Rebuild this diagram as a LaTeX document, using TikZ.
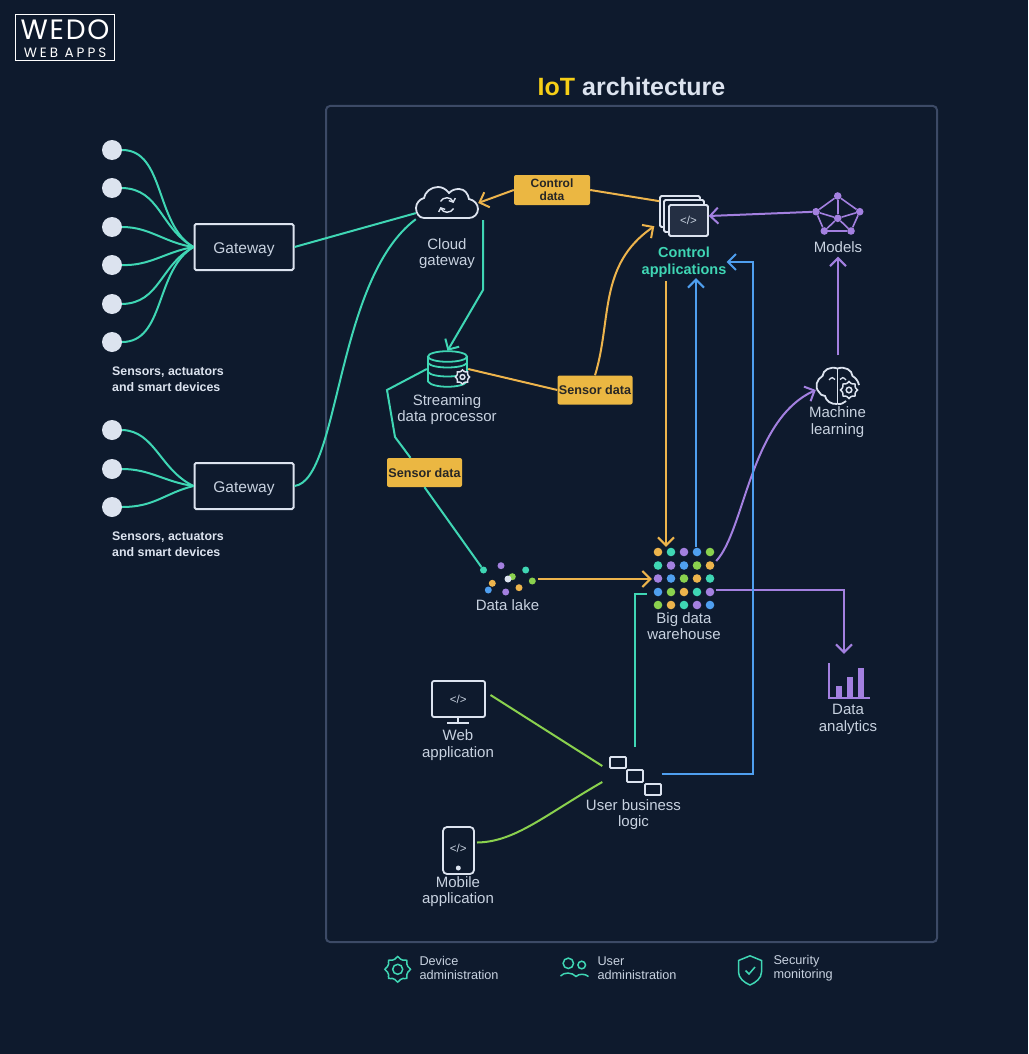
\documentclass[tikz,border=0pt]{standalone}
\usepackage{fontspec}
\setmainfont{Liberation Sans}
\newfontfamily\logofont[LetterSpace=6]{Poppins}
\newfontfamily\logowide[LetterSpace=22]{Poppins}
\usetikzlibrary{arrows.meta}
\definecolor{bgc}{HTML}{0E1A2D}
\definecolor{framec}{HTML}{3C4A66}
\definecolor{linec}{HTML}{DCE3EF}
\definecolor{textc}{HTML}{C8D2E0}
\definecolor{tealc}{HTML}{3FD6B4}
\definecolor{orangec}{HTML}{EDB44C}
\definecolor{boxc}{HTML}{EBB742}
\definecolor{purplec}{HTML}{A380E0}
\definecolor{bluec}{HTML}{4F9FEF}
\definecolor{greenc}{HTML}{8AD14E}
\definecolor{yellowc}{HTML}{F6CF17}
\newcommand{\gearplot}[5]{\draw[#4, line width=1.5pt, fill=bgc] plot[smooth cycle, domain=0:345, samples=24] ({#1+#3*(1+0.13*cos(8*\x))*cos(\x)},{#2+#3*(1+0.13*cos(8*\x))*sin(\x)});
\draw[#4, line width=1.5pt] (#1,#2) circle (#5);}
\tikzset{
sensor/.style={circle, fill=linec, inner sep=0pt, minimum size=20pt},
gatebox/.style={draw=linec, line width=2pt, rounded corners=1.5pt, inner sep=0pt, minimum width=99pt, minimum height=46pt, text=textc, font=\fontsize{15.5}{17}\selectfont},
tag/.style={fill=boxc, rounded corners=2pt, inner sep=0pt, align=center, text=black!85, font=\fontsize{12}{13.2}\selectfont\bfseries},
lbl/.style={inner sep=0pt, align=center, text=textc, font=\fontsize{15}{16.6}\selectfont},
sidelbl/.style={inner sep=0pt, align=left, anchor=west, text=linec, font=\fontsize{12.4}{16.4}\selectfont\bfseries},
legendlbl/.style={inner sep=0pt, align=left, anchor=west, text=textc, font=\fontsize{12.7}{14.5}\selectfont},
codelbl/.style={inner sep=0pt, text=textc, font=\fontsize{11.5}{12}\selectfont},
iconbox/.style={inner sep=0pt, rectangle},
icon/.style={draw=linec, line width=1.8pt},
wire/.style={line width=2pt},
tealwire/.style={wire, draw=tealc},
orangewire/.style={wire, draw=orangec},
purplewire/.style={wire, draw=purplec},
bluewire/.style={wire, draw=bluec},
greenwire/.style={wire, draw=greenc},
tip/.style={-{Straight Barb[length=8pt,width=16pt,line width=2pt]}},
dot/.style={circle, inner sep=0pt, minimum size=8.6pt},
spot/.style={circle, inner sep=0pt, minimum size=7pt},
}
\begin{document}
\begin{tikzpicture}[x=1pt,y=-1pt]
\useasboundingbox (0,0) rectangle (1028,1054);
\fill[bgc] (0,0) rectangle (1028,1054);

\node[draw=white, line width=1pt, inner sep=0pt, minimum width=99pt, minimum height=46pt] (logo0) at (64.5,38){};
\node[inner sep=0pt, text=white, font=\logofont\fontsize{28}{28}\selectfont, text height=19pt, text depth=0pt] (logo1) at (65,30){WEDO};
\node[inner sep=0pt, text=white, font=\logowide\fontsize{13.5}{14}\selectfont, text height=10pt, text depth=0pt] (logo2) at (65,52.5){WEB APPS};

\node[inner sep=0pt, text=linec, font=\fontsize{25}{28}\selectfont\bfseries] (title0) at (631.5,87){\textcolor{yellowc}{IoT} architecture};
\draw[draw=framec, line width=2pt, rounded corners=4pt] (326,106) rectangle (937,942);

\node[sensor] (sid0) at (112,150){};
\node[sensor] (sid1) at (112,188){};
\node[sensor] (sid2) at (112,227){};
\node[sensor] (sid3) at (112,265){};
\node[sensor] (sid4) at (112,304){};
\node[sensor] (sid5) at (112,342){};
\node[sensor] (sid6) at (112,430){};
\node[sensor] (sid7) at (112,469){};
\node[sensor] (sid8) at (112,507){};
\node[gatebox, text depth=2pt, text height=14pt] (gid0) at (244,247){Gateway};
\node[gatebox, text depth=2pt, text height=14pt] (gid1) at (244,486){Gateway};
\draw[tealwire](sid0.east) .. controls (165,150) and (155,225) .. (gid0.west);
\draw[tealwire](sid1.east) .. controls (160,189) and (160,228) .. (gid0.west);
\draw[tealwire](sid2.east) .. controls (150,227) and (165,243) .. (gid0.west);
\draw[tealwire](sid3.east) .. controls (150,266) and (165,252) .. (gid0.west);
\draw[tealwire](sid4.east) .. controls (160,303) and (160,265) .. (gid0.west);
\draw[tealwire](sid5.east) .. controls (165,342) and (155,270) .. (gid0.west);
\draw[tealwire](sid6.east) .. controls (155,431) and (160,470) .. (gid1.west);
\draw[tealwire](sid7.east) .. controls (150,469) and (165,482) .. (gid1.west);
\draw[tealwire](sid8.east) .. controls (155,507) and (165,493) .. (gid1.west);
\node[sidelbl] (side0) at (112,379.5){Sensors, actuators\\and smart devices};
\node[sidelbl] (side1) at (112,544.5){Sensors, actuators\\and smart devices};

\node[iconbox, minimum width=62pt, minimum height=32pt] (cloud0) at (447,203){};
\draw[icon] (424,218) .. controls (419,218) and (416,213) .. (416,208) .. controls (416,203) and (420,199) .. (424,198) .. controls (425,192) and (431,187) .. (438,187) .. controls (442,187) and (446,189) .. (449,193) .. controls (452,190) and (455,189) .. (459,189) .. controls (465,189) and (468,194) .. (469,199) .. controls (474,200) and (478,204) .. (478,209) .. controls (478,214) and (474,218) .. (469,218) -- cycle;
\draw[draw=linec, line width=1.4pt, -{Straight Barb[length=3pt,width=7pt,line width=1.4pt]}] (440.5,201.5) .. controls (443,196.5) and (451,196.5) .. (453.5,203);
\draw[draw=linec, line width=1.4pt, -{Straight Barb[length=3pt,width=7pt,line width=1.4pt]}] (453.5,208.5) .. controls (451,213.5) and (443,213.5) .. (440.5,207);
\node[lbl] (cloud1) at (447,253.5){Cloud\\gateway};
\draw[tealwire](gid0.east) -- (cloud0.198);
\draw[tealwire](gid1.east) .. controls (340,480) and (335,280) .. (cloud0.south west);

\node[iconbox, minimum width=49pt, minimum height=40pt] (apps0) at (684,216){};
\draw[icon, rounded corners=1.5pt, fill=bgc] (660,196) rectangle (700,227);
\draw[icon, rounded corners=1.5pt, fill=bgc] (664,200) rectangle (704,232);
\draw[icon, rounded corners=1.5pt, fill=black!25!framec!70!bgc] (669,205) rectangle (708,236);
\node[codelbl] (apps1) at (688.5,220.5){</>};
\node[lbl, text=tealc, font=\fontsize{14.5}{16.6}\selectfont\bfseries, minimum height=32pt] (apps2) at (684,262){Control\\applications};

\node[tag, minimum width=76pt, minimum height=30pt] (ctl0) at (552,190){Control\\data};
\draw[orangewire, tip](ctl0.west) -- (cloud0.east);
\draw[orangewire](ctl0.east) -- (apps0.149);

\node[iconbox, minimum width=41pt, minimum height=36pt] (db0) at (447.5,369){};
\draw[draw=tealc, line width=1.8pt] (428,356.5) -- (428,381.5) (467,356.5) -- (467,381.5);
\draw[draw=tealc, line width=1.8pt] (447.5,356.5) ellipse (19.5 and 5.3);
\draw[draw=tealc, line width=1.8pt] (428,363) .. controls (432,369) and (463,369) .. (467,363);
\draw[draw=tealc, line width=1.8pt] (428,372) .. controls (432,378) and (463,378) .. (467,372);
\draw[draw=tealc, line width=1.8pt] (428,381.5) .. controls (432,388.5) and (463,388.5) .. (467,381.5);
\gearplot{462.5}{377}{6.3}{linec}{2.4}
\node[lbl] (db1) at (447,409.5){Streaming\\data processor};

\coordinate (cid0) at (483,290);
\draw[tealwire, tip]([shift={(5pt,-1pt)}]cloud0.south east) -- (cid0) -- (db0.north);

\node[tag, minimum width=75pt, minimum height=29pt, font=\fontsize{12.6}{13.2}\selectfont\bfseries] (sen0) at (595,390){Sensor data};
\draw[orangewire](db0.east) -- (sen0.west);
\draw[orangewire, tip](sen0.north) .. controls (612,320) and (598,265) .. ([shift={(-5pt,10pt)}]apps0.south west);

\node[tag, minimum width=75pt, minimum height=29pt, font=\fontsize{12.6}{13.2}\selectfont\bfseries] (sen1) at (424.5,472.5){Sensor data};
\coordinate (cid1) at (387,390);
\coordinate (cid2) at (395,437);
\draw[tealwire](db0.west) -- (cid1) -- (cid2) -- ([xshift=-14pt]sen1.north);

\node[iconbox, minimum width=56pt, minimum height=34pt] (lake0) at (510,579){};
\node[spot, fill=tealc] (did0) at (483.5,570){};
\node[spot, fill=purplec] (did1) at (501,565.7){};
\node[spot, fill=tealc] (did2) at (525.7,570){};
\node[spot, fill=greenc] (did3) at (512.3,576.7){};
\node[spot, fill=linec] (did4) at (508,579){};
\node[spot, fill=greenc] (did5) at (532.3,581){};
\node[spot, fill=orangec] (did6) at (492.3,583.3){};
\node[spot, fill=bluec] (did7) at (488.3,590){};
\node[spot, fill=purplec] (did8) at (505.7,592){};
\node[spot, fill=orangec] (did9) at (519,587.7){};
\node[lbl] (lake1) at (507.5,605){Data lake};
\draw[tealwire](sen1.south) -- (did0);

\node[iconbox, minimum width=64pt, minimum height=64pt] (wh0) at (684,579){};
\node[dot, fill=orangec] (wid0) at (658,552){};
\node[dot, fill=tealc] (wid1) at (671,552){};
\node[dot, fill=purplec] (wid2) at (684,552){};
\node[dot, fill=bluec] (wid3) at (697,552){};
\node[dot, fill=greenc] (wid4) at (710,552){};
\node[dot, fill=tealc] (wid5) at (658,565.5){};
\node[dot, fill=purplec] (wid6) at (671,565.5){};
\node[dot, fill=bluec] (wid7) at (684,565.5){};
\node[dot, fill=greenc] (wid8) at (697,565.5){};
\node[dot, fill=orangec] (wid9) at (710,565.5){};
\node[dot, fill=purplec] (wid10) at (658,578.5){};
\node[dot, fill=bluec] (wid11) at (671,578.5){};
\node[dot, fill=greenc] (wid12) at (684,578.5){};
\node[dot, fill=orangec] (wid13) at (697,578.5){};
\node[dot, fill=tealc] (wid14) at (710,578.5){};
\node[dot, fill=bluec] (wid15) at (658,592){};
\node[dot, fill=greenc] (wid16) at (671,592){};
\node[dot, fill=orangec] (wid17) at (684,592){};
\node[dot, fill=tealc] (wid18) at (697,592){};
\node[dot, fill=purplec] (wid19) at (710,592){};
\node[dot, fill=greenc] (wid20) at (658,605){};
\node[dot, fill=orangec] (wid21) at (671,605){};
\node[dot, fill=tealc] (wid22) at (684,605){};
\node[dot, fill=purplec] (wid23) at (697,605){};
\node[dot, fill=bluec] (wid24) at (710,605){};
\node[lbl] (wh1) at (684,626){Big data\\warehouse};
\draw[orangewire, tip](lake0.east) -- (wh0.west);
\draw[orangewire, tip]([shift={(-18pt,-3pt)}]apps2.south) -- ([xshift=-18pt]wh0.north);
\draw[bluewire, tip]([xshift=12pt]wh0.north) -- ([xshift=12pt]apps2.south);

\node[iconbox, minimum width=44pt, minimum height=37pt] (ml0) at (838,386){};
\draw[icon] (837.5,368) -- (837.5,404);
\draw[icon] (837.5,368.5) .. controls (830,366) and (823,370) .. (822.5,376) .. controls (817,379) and (814,387) .. (819,392) .. controls (820,394) and (822,396) .. (825,396) .. controls (826,401) and (831,404.5) .. (837.5,404);
\draw[icon] (837.5,368.5) .. controls (845,366) and (852,370) .. (852.5,376) .. controls (856,378) and (858,381) .. (859,385);
\draw[icon] (837.5,404) .. controls (841,404.5) and (844,403) .. (846,401);
\draw[draw=linec, line width=1.3pt] (829,380) .. controls (831,377) and (834,377) .. (835,379.5);
\draw[draw=linec, line width=1.3pt] (840,379.5) .. controls (841,377) and (844,377) .. (846,380);
\gearplot{849}{390}{7.5}{linec}{2.8}
\node[lbl] (ml1) at (837.5,422){Machine\\learning};
\draw[purplewire, tip]([yshift=18pt]wh0.east) .. controls (745,530) and (750,420) .. ([yshift=-4pt]ml0.west);

\node[spot, fill=purplec, minimum size=7.6pt] (mid0) at (837.7,196){};
\node[spot, fill=purplec, minimum size=7.6pt] (mid1) at (816,211.7){};
\node[spot, fill=purplec, minimum size=7.6pt] (mid2) at (859.7,211.7){};
\node[spot, fill=purplec, minimum size=7.6pt] (mid3) at (824.3,231){};
\node[spot, fill=purplec, minimum size=7.6pt] (mid4) at (851,231){};
\node[spot, fill=purplec, minimum size=7.6pt] (mid5) at (837.7,218.3){};
\draw[purplec, line width=1.6pt](mid0) -- (mid1);
\draw[purplec, line width=1.6pt](mid0) -- (mid2);
\draw[purplec, line width=1.6pt](mid1) -- (mid3);
\draw[purplec, line width=1.6pt](mid2) -- (mid4);
\draw[purplec, line width=1.6pt](mid3) -- (mid4);
\draw[purplec, line width=1.6pt](mid5) -- (mid0);
\draw[purplec, line width=1.6pt](mid5) -- (mid1);
\draw[purplec, line width=1.6pt](mid5) -- (mid2);
\draw[purplec, line width=1.6pt](mid5) -- (mid3);
\draw[purplec, line width=1.6pt](mid5) -- (mid4);
\node[lbl] (mid6) at (838,247){Models};
\draw[purplewire, tip](mid1) -- (apps0.east);
\draw[purplewire, tip]([yshift=12pt]ml0.north) -- ([yshift=-4pt]mid6.south);

\node[iconbox, minimum width=42pt, minimum height=38pt] (da0) at (849,681){};
\draw[purplec, line width=1.6pt] (829,663) -- (829,698) -- (870,698);
\fill[purplec] (835.7,685.7) rectangle (842.3,698);
\fill[purplec] (846.7,676.7) rectangle (853.3,698);
\fill[purplec] (857.7,668) rectangle (864.3,698);
\node[lbl] (da1) at (848,719.5){Data\\analytics};
\draw[purplewire, tip]([yshift=-11pt]wh0.east) -| ([shift={(-5pt,8pt)}]da0.north);

\node[iconbox, minimum width=54pt, minimum height=36pt] (web0) at (458.3,699){};
\draw[icon, rounded corners=2pt] (432,681) rectangle (485,717);
\draw[icon] (458,717) -- (458,723) (447,723) -- (469,723);
\node[codelbl] (web1) at (458.3,699){</>};
\node[lbl] (web2) at (458,745){Web\\application};

\node[iconbox, minimum width=31pt, minimum height=47pt] (mob0) at (458.3,850.5){};
\draw[icon, rounded corners=4pt] (443,827) rectangle (474,874);
\node[codelbl] (mob1) at (458.3,848){</>};
\node[circle, fill=linec, inner sep=0pt, minimum size=5pt] (mob2) at (458.3,868){};
\node[lbl] (mob3) at (458,891.5){Mobile\\application};

\node[iconbox, minimum width=53pt, minimum height=42pt] (ub0) at (635,774){};
\draw[icon, rounded corners=1pt] (610,757) rectangle (626,768);
\draw[icon, rounded corners=1pt] (627,770) rectangle (643,782);
\draw[icon, rounded corners=1pt] (645,784) rectangle (661,795);
\node[lbl] (ub1) at (633.5,814.5){User business\\logic};
\draw[greenwire]([shift={(5pt,4pt)}]web0.east) -- ([shift={(-6pt,8pt)}]ub0.west);
\draw[greenwire]([shift={(3pt,8pt)}]mob0.east) .. controls (515,842) and (545,815) .. ([shift={(-6pt,-8pt)}]ub0.west);
\coordinate (cid5) at (635,594);
\draw[tealwire]([yshift=6pt]ub0.north) -- (cid5) -- ([shift={(-5pt,-15pt)}]wh0.west);
\coordinate (cid3) at (753,774);
\coordinate (cid4) at (753,262);
\draw[bluewire, tip](ub0.east) -- (cid3) -- (cid4) -- (apps2.east);

\gearplot{397.7}{969.3}{11.3}{tealc}{5}
\node[legendlbl] (leg0) at (419.3,968){Device\\administration};
\draw[draw=tealc, line width=1.5pt] (568.3,963.3) circle (5.2);
\draw[draw=tealc, line width=1.5pt] (581.7,965) circle (3.8);
\draw[draw=tealc, line width=1.5pt] (560.5,976) .. controls (564,972) and (572,972) .. (576,976.5) .. controls (579,973.5) and (585,973.5) .. (588.5,976.5);
\node[legendlbl] (leg1) at (597.3,968){User\\administration};
\draw[draw=tealc, line width=1.5pt] (750,955.8) -- (761.5,960.5) -- (761.5,972) .. controls (761.5,978) and (756,982.5) .. (750,985) .. controls (744,982.5) and (738.5,978) .. (738.5,972) -- (738.5,960.5) -- cycle;
\draw[draw=tealc, line width=1.5pt] (745.5,970.5) -- (749,974) -- (755,967);
\node[legendlbl] (leg2) at (773.3,968){Security\\monitoring};
\end{tikzpicture}
\end{document}
